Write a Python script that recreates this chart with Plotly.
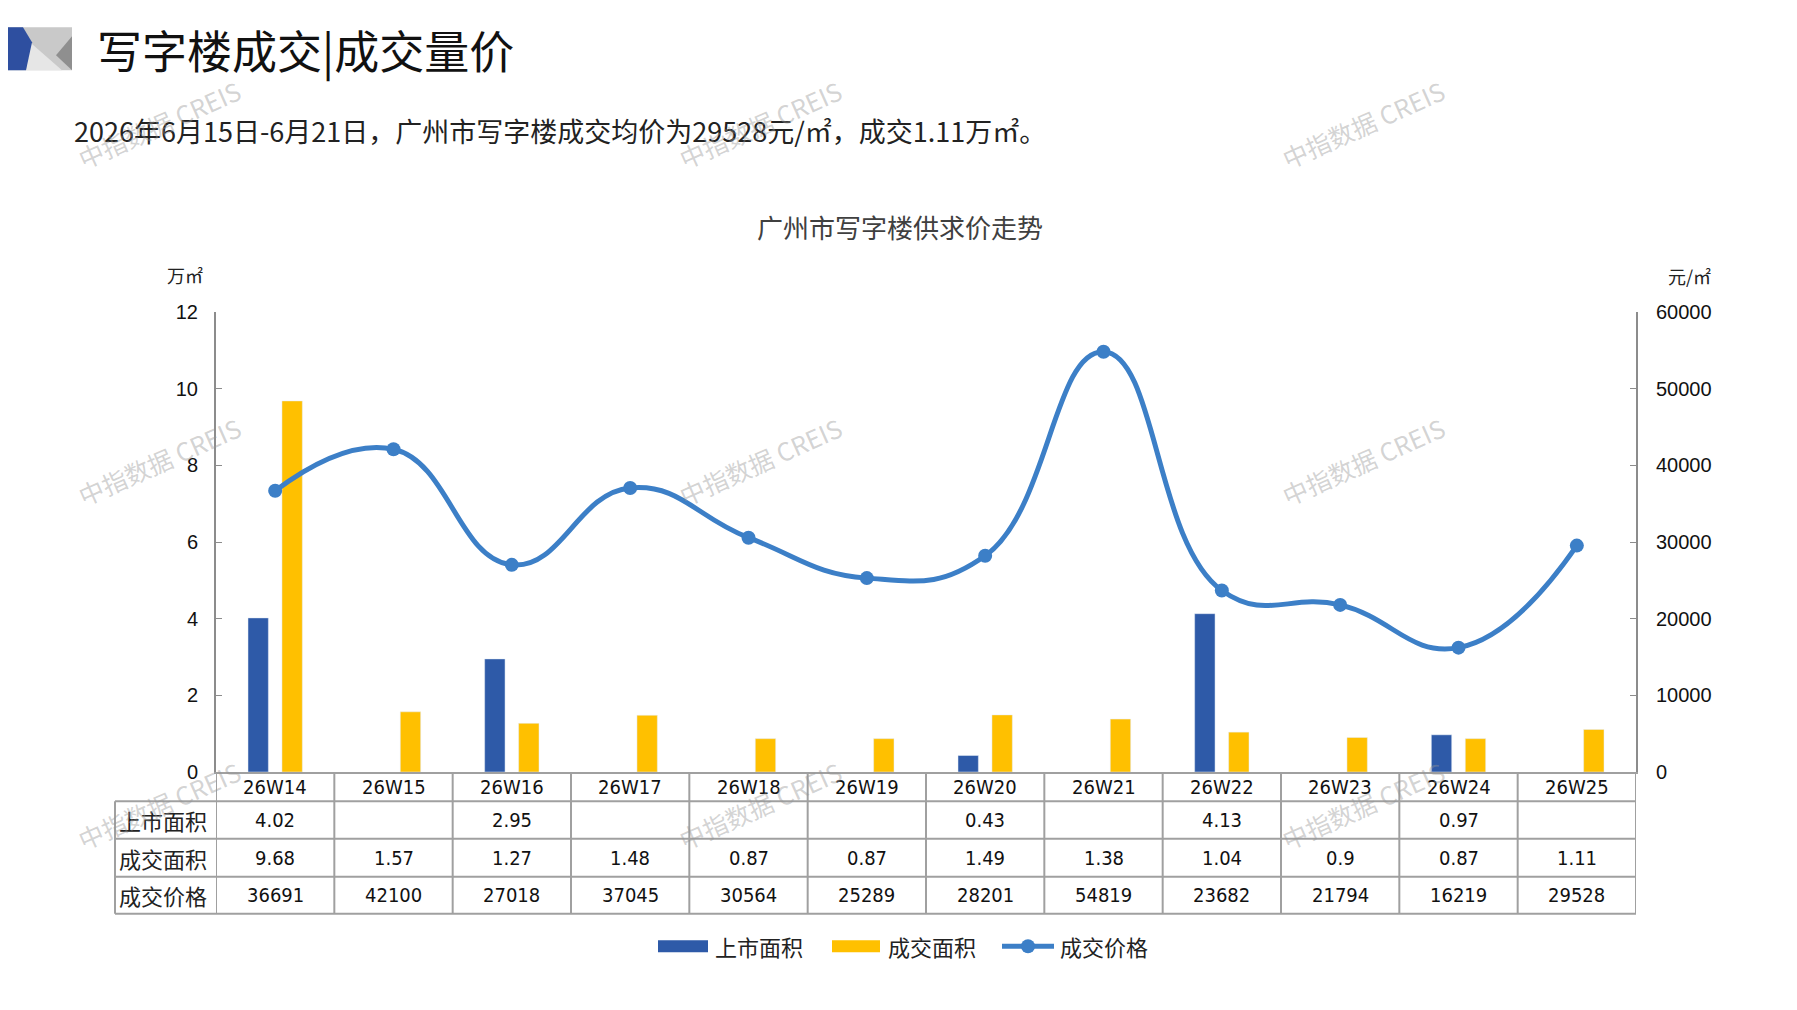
import plotly.graph_objects as go

# 数据
weeks = ["26W14", "26W15", "26W16", "26W17", "26W18", "26W19",
         "26W20", "26W21", "26W22", "26W23", "26W24", "26W25"]
supply_area = [4.02, None, 2.95, None, None, None, 0.43, None, 4.13, None, 0.97, None]
deal_area = [9.68, 1.57, 1.27, 1.48, 0.87, 0.87, 1.49, 1.38, 1.04, 0.9, 0.87, 1.11]
deal_price = [36691, 42100, 27018, 37045, 30564, 25289, 28201, 54819, 23682, 21794, 16219, 29528]
row_names = ["上市面积", "成交面积", "成交价格"]

BLUE = "#2E5AA8"
YELLOW = "#FFC000"
LINE = "#3C7FC7"
GRID = "#a0a0a0"
CJK = "Noto Sans CJK SC"
NUM = "Liberation Sans, Arial, sans-serif"
NARROW = "Liberation Sans Narrow, DejaVu Sans Condensed, Arial Narrow, sans-serif"

# page body has an 8px margin, so the figure is a bit smaller than the window
OFF = 8
W, H = 1797 - 2 * OFF, 1010 - 2 * OFF
L, R, T, B = 216, 1636, 312, 772.5   # plot area in window pixels


def xp(px):
    return (px - L) / (R - L)


def yp(py):
    return (B - py) / (B - T)


def fmt(v):
    return "" if v is None else f"{v:g}"


fig = go.Figure()
fig.add_trace(go.Bar(x=weeks, y=supply_area, name="上市面积", marker_color=BLUE))
fig.add_trace(go.Bar(x=weeks, y=deal_area, name="成交面积", marker_color=YELLOW))
fig.add_trace(go.Scatter(x=weeks, y=deal_price, name="成交价格", yaxis="y2",
                         mode="lines+markers", line=dict(color=LINE, width=5, shape="spline", smoothing=1.3),
                         marker=dict(size=14, color=LINE)))

ann = []
shapes = []

# 表头
ann.append(dict(text="写字楼成交|成交量价", x=xp(95), y=yp(49), xref="paper", yref="paper",
                xanchor="left", yanchor="middle", showarrow=False,
                font=dict(family=CJK, size=45, color="#111")))
ann.append(dict(text="2026年6月15日-6月21日，广州市写字楼成交均价为29528元/㎡，成交1.11万㎡。",
                x=xp(72), y=yp(130), xref="paper", yref="paper", xanchor="left", yanchor="middle",
                showarrow=False, font=dict(family=CJK, size=27, color="#222")))
ann.append(dict(text="广州市写字楼供求价走势", x=xp(900), y=yp(226), xref="paper", yref="paper",
                xanchor="center", yanchor="middle", showarrow=False,
                font=dict(family=CJK, size=26, color="#404040")))
ann.append(dict(text="万㎡", x=xp(185), y=yp(275), xref="paper", yref="paper", xanchor="center",
                yanchor="middle", showarrow=False, font=dict(family=CJK, size=18, color="#222")))
ann.append(dict(text="元/㎡", x=xp(1689), y=yp(276), xref="paper", yref="paper", xanchor="center",
                yanchor="middle", showarrow=False, font=dict(family=CJK, size=18, color="#222")))


def poly(pts, color):
    path = "M " + " L ".join(f"{xp(a)},{yp(b)}" for a, b in pts) + " Z"
    return dict(type="path", path=path, xref="paper", yref="paper", fillcolor=color,
                line=dict(width=0), layer="above")


# 左上角色块
shapes.append(poly([(0, 27), (72, 27), (72, 70), (0, 70)], "#c9c9c9"))
shapes.append(poly([(30, 42), (62, 70), (26, 70)], "#e6e6e6"))
shapes.append(poly([(72, 36), (72, 70), (56, 55)], "#8f8f8f"))
shapes.append(poly([(0, 27), (23, 27), (32, 42), (26, 70), (0, 70)], "#2E4FA0"))

# 表格
rows_y = [801.7, 839.3, 877.3, 914.3]
for py in rows_y:
    shapes.append(dict(type="line", xref="paper", yref="paper", x0=xp(115), x1=1, y0=yp(py), y1=yp(py),
                       line=dict(color=GRID, width=2)))
for i in range(len(weeks) + 1):
    shapes.append(dict(type="line", xref="x", yref="paper", x0=i - 0.5, x1=i - 0.5, y0=0, y1=yp(914.3),
                       line=dict(color=GRID, width=2)))
shapes.append(dict(type="line", xref="paper", yref="paper", x0=xp(115), x1=xp(115),
                   y0=yp(801.7), y1=yp(914.3), line=dict(color=GRID, width=2)))

for i, w in enumerate(weeks):
    ann.append(dict(text=w, x=i, y=yp(787.5), xref="x", yref="paper", xanchor="center", yanchor="middle",
                    showarrow=False, font=dict(family=NARROW, size=20, color="#111")))
row_cy = [820.5, 858.3, 895.8]
for name, cy, vals in zip(row_names, row_cy, [supply_area, deal_area, deal_price]):
    ann.append(dict(text=name, x=xp(117), y=yp(cy), xref="paper", yref="paper", xanchor="left",
                    yanchor="middle", showarrow=False, font=dict(family=CJK, size=22, color="#222")))
    for i, v in enumerate(vals):
        ann.append(dict(text=fmt(v), x=i, y=yp(cy), xref="x", yref="paper", xanchor="center",
                        yanchor="middle", showarrow=False, font=dict(family=NARROW, size=20, color="#111")))

# 图例
shapes.append(dict(type="rect", xref="paper", yref="paper", x0=xp(658), x1=xp(708), y0=yp(953), y1=yp(941),
                   fillcolor=BLUE, line=dict(width=0)))
shapes.append(dict(type="rect", xref="paper", yref="paper", x0=xp(832), x1=xp(880), y0=yp(953), y1=yp(941),
                   fillcolor=YELLOW, line=dict(width=0)))
shapes.append(dict(type="line", xref="paper", yref="paper", x0=xp(1002), x1=xp(1054), y0=yp(947), y1=yp(947),
                   line=dict(color=LINE, width=5)))
shapes.append(dict(type="circle", xref="paper", yref="paper", x0=xp(1021), x1=xp(1035), y0=yp(954), y1=yp(940),
                   fillcolor=LINE, line=dict(width=0)))
for txt, px in [("上市面积", 713), ("成交面积", 886), ("成交价格", 1058)]:
    ann.append(dict(text=txt, x=xp(px), y=yp(947), xref="paper", yref="paper", xanchor="left",
                    yanchor="middle", showarrow=False, font=dict(family=CJK, size=22, color="#222")))

# 水印
for cx in [159, 760, 1363]:
    for cy in [124, 461, 806]:
        ann.append(dict(text="中指数据 CREIS", x=xp(cx), y=yp(cy), xref="paper", yref="paper",
                        xanchor="center", yanchor="middle", showarrow=False, textangle=-24,
                        font=dict(family=CJK, size=25, color="rgba(150,150,150,0.42)")))

fig.update_layout(
    width=W, height=H,
    margin=dict(l=L - OFF, r=W - (R - OFF), t=T - OFF, b=H - (B - OFF), pad=0),
    paper_bgcolor="white", plot_bgcolor="white",
    barmode="group", bargap=0.426, bargroupgap=0.4,
    showlegend=False,
    xaxis=dict(range=[-0.5, len(weeks) - 0.5], showticklabels=False, showline=True, linecolor=GRID,
               linewidth=2, ticks="", showgrid=False, zeroline=False),
    yaxis=dict(range=[0, 12], dtick=2, showline=True, linecolor="#8c8c8c", linewidth=2, ticks="inside",
               ticklen=6, tickcolor="#8c8c8c", showgrid=False, zeroline=False, ticklabelstandoff=12,
               tickfont=dict(family=NUM, size=20, color="#111")),
    yaxis2=dict(range=[0, 60000], dtick=10000, tickformat="d", overlaying="y", side="right", showline=True,
                linecolor="#8c8c8c", linewidth=2, ticks="inside", ticklen=6, tickcolor="#8c8c8c",
                showgrid=False, zeroline=False, ticklabelstandoff=14,
                tickfont=dict(family=NUM, size=20, color="#111")),
    annotations=ann,
    shapes=shapes,
)

fig.write_html("out.html")
